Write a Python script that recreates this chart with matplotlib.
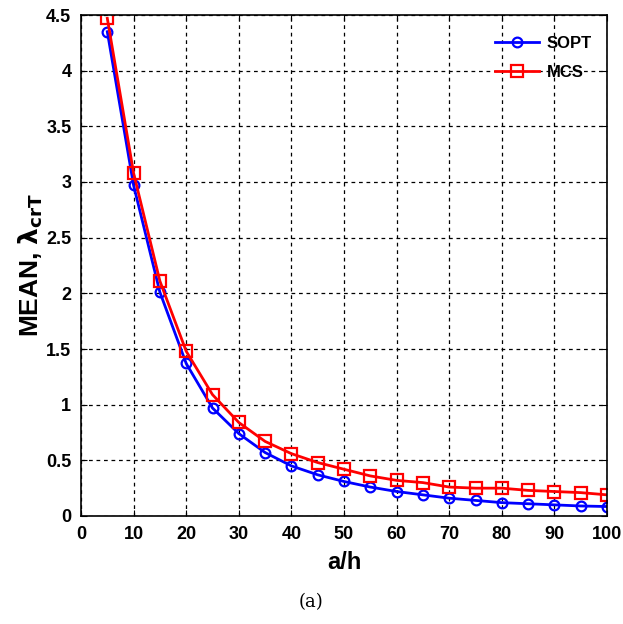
import matplotlib.pyplot as plt

# a/h ratios and mean critical buckling load
a_h = [5, 10, 15, 20, 25, 30, 35, 40, 45, 50, 55, 60, 65, 70, 75, 80, 85, 90, 95, 100]
sopt = [4.35, 2.97, 2.01, 1.37, 0.97, 0.74, 0.57, 0.45, 0.37, 0.31, 0.26, 0.22,
        0.19, 0.16, 0.14, 0.12, 0.11, 0.10, 0.09, 0.085]
mcs = [4.47, 3.08, 2.11, 1.48, 1.09, 0.84, 0.67, 0.56, 0.48, 0.42, 0.36, 0.32,
       0.30, 0.26, 0.25, 0.25, 0.23, 0.22, 0.21, 0.19]

xticks = list(range(0, 101, 10))
yticks = [0, 0.5, 1, 1.5, 2, 2.5, 3, 3.5, 4, 4.5]
ytick_labels = ['0', '0.5', '1', '1.5', '2', '2.5', '3', '3.5', '4', '4.5']

plt.rcParams['font.family'] = ['Liberation Sans', 'DejaVu Sans']

fig = plt.figure(figsize=(6.23, 6.24), dpi=100)
ax = fig.add_axes([81/623, 1-516/624, 526/623, 501/624])

ax.plot(a_h, sopt, color='blue', lw=2, marker='o', ms=7, mfc='none', mew=1.6, label='SOPT')
ax.plot(a_h, mcs, color='red', lw=2, marker='s', ms=9, mfc='none', mew=1.6, label='MCS')

ax.set_xlim(0, 100)
ax.set_ylim(0, 4.5)
ax.set_xticks(xticks)
ax.set_yticks(yticks)
ax.set_yticklabels(ytick_labels)
ax.tick_params(direction='in', length=4, labelsize=13, top=True, right=True, pad=7)
for lab in ax.get_xticklabels() + ax.get_yticklabels():
    lab.set_fontweight('bold')
ax.grid(True, color='black', ls=(0, (3, 3)), lw=0.9)
for s in ax.spines.values():
    s.set_linewidth(1.2)

ax.set_xlabel('a/h', fontsize=17, fontweight='bold', labelpad=6)
ax.set_ylabel(r'MEAN, $\mathbf{\lambda_{crT}}$', fontsize=19, fontweight='bold', labelpad=1)

leg = ax.legend(loc='upper right', bbox_to_anchor=(1.0, 0.988), frameon=False,
                handlelength=2.6, labelspacing=0.85, handletextpad=0.5,
                prop={'weight': 'bold', 'size': 12}, borderaxespad=0.5)

fig.text(0.5, 1-602/624, '(a)', ha='center', va='center', fontsize=13,
         family='DejaVu Serif')

fig.savefig('out.png', dpi=100)
